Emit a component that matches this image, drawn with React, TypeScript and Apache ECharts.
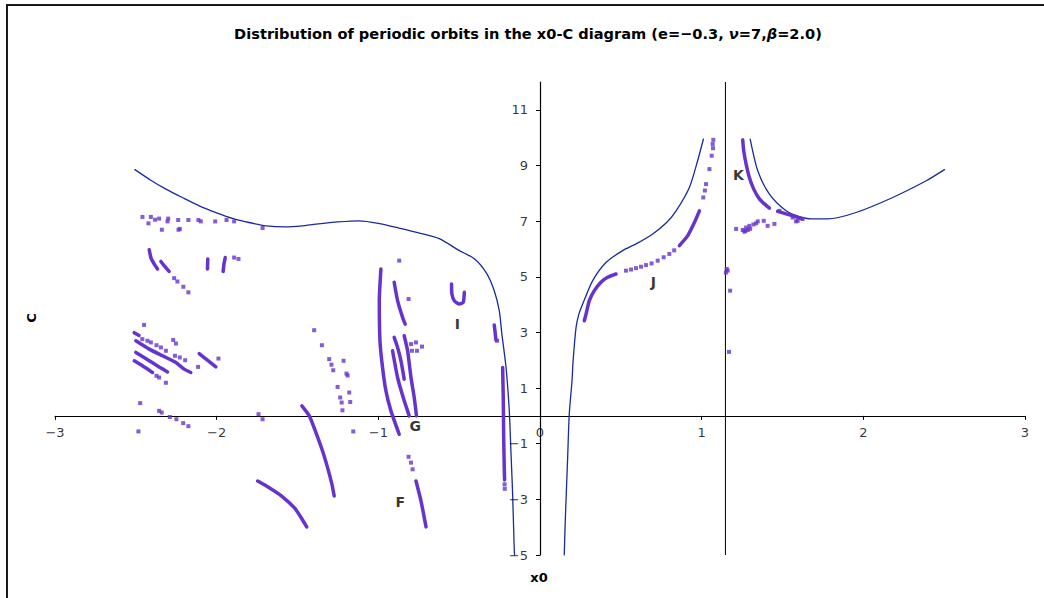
import React, { useEffect, useRef } from "react";
import * as echarts from "echarts";

// Zero-velocity curves, [x0, C]
const zvcLeft: number[][] = [
  [-2.506, 8.85], [-2.41, 8.48], [-2.314, 8.15], [-2.21, 7.84], [-2.108, 7.55], [-2.0, 7.3],
  [-1.902, 7.1], [-1.8, 6.95], [-1.696, 6.83], [-1.572, 6.79], [-1.47, 6.83], [-1.386, 6.89],
  [-1.25, 6.97], [-1.118, 7.01], [-1.0, 6.92], [-0.871, 6.75], [-0.75, 6.58], [-0.623, 6.37],
  [-0.499, 5.94], [-0.406, 5.65], [-0.332, 5.14], [-0.283, 4.5], [-0.252, 3.78], [-0.235, 2.9],
  [-0.21, 1.74], [-0.19, 0.18], [-0.18, -1.26], [-0.17, -2.7], [-0.159, -4.86], [-0.157, -5.0],
];
const zvcInner: number[][] = [
  [0.15, -5.0], [0.157, -3.66], [0.171, -1.5], [0.181, 0.06], [0.198, 1.26], [0.205, 2.0],
  [0.223, 3.18], [0.24, 3.65], [0.264, 4.02], [0.326, 4.86], [0.408, 5.51], [0.511, 5.94],
  [0.6, 6.2], [0.697, 6.54], [0.78, 6.93], [0.842, 7.37], [0.924, 8.21], [0.975, 9.17], [1.011, 9.95],
];
const zvcRight: number[][] = [
  [1.3, 9.95], [1.347, 8.81], [1.419, 7.97], [1.522, 7.37], [1.6, 7.17], [1.677, 7.08],
  [1.78, 7.08], [1.955, 7.31], [2.182, 7.85], [2.389, 8.45], [2.502, 8.85],
];

// Collision line x0 = 1 - mu
const collisionX = 1.147;

// Dense families of periodic orbits, [x0, C]
const familyStrips: number[][][] = [
  [[-2.417, 5.97], [-2.407, 5.69], [-2.387, 5.46], [-2.366, 5.28]],
  [[-2.345, 5.55], [-2.325, 5.4], [-2.294, 5.19]],
  [[-2.055, 5.64], [-2.057, 5.28]],
  [[-1.947, 5.69], [-1.955, 5.45], [-1.96, 5.19]],
  [[-2.51, 2.99], [-2.48, 2.89]],
  [[-2.5, 2.7], [-2.417, 2.4], [-2.335, 2.16], [-2.252, 1.92], [-2.201, 1.68], [-2.16, 1.56]],
  [[-2.5, 2.28], [-2.417, 1.98], [-2.356, 1.76], [-2.304, 1.58]],
  [[-2.51, 1.98], [-2.459, 1.8], [-2.397, 1.56]],
  [[-2.108, 2.24], [-2.057, 2.0], [-2.005, 1.76]],
  [[-1.473, 0.36], [-1.427, 0.0], [-1.386, -0.6], [-1.345, -1.26], [-1.314, -1.86], [-1.287, -2.46], [-1.273, -2.88]],
  [[-1.746, -2.34], [-1.675, -2.58], [-1.598, -2.88], [-1.52, -3.3], [-1.477, -3.66], [-1.443, -3.99]],
  [[-0.767, -2.34], [-0.736, -3.06], [-0.705, -3.99]],
  [[-0.984, 5.28], [-0.994, 4.14], [-0.99, 2.7], [-0.974, 1.74], [-0.953, 0.9], [-0.922, 0.18], [-0.871, -0.66]],
  [[-0.902, 4.8], [-0.881, 4.14], [-0.85, 3.54], [-0.834, 3.3]],
  [[-0.912, 2.34], [-0.881, 1.38], [-0.846, 0.66], [-0.809, 0.0]],
  [[-0.902, 2.82], [-0.881, 2.46], [-0.86, 1.98], [-0.84, 1.32]],
  [[-0.84, 2.88], [-0.819, 2.34], [-0.798, 1.38], [-0.778, 0.66], [-0.764, 0.0]],
  [[-0.547, 4.74], [-0.545, 4.38], [-0.53, 4.14], [-0.499, 4.02], [-0.475, 4.08], [-0.468, 4.44]],
  [[-0.283, 3.27], [-0.272, 2.72]],
  [[-0.231, 1.74], [-0.227, 0.54], [-0.225, -0.66], [-0.221, -1.86], [-0.219, -2.3]],
  [[0.274, 3.42], [0.285, 3.66], [0.305, 4.14], [0.336, 4.5], [0.377, 4.8], [0.418, 4.98], [0.47, 5.1]],
  [[0.862, 6.12], [0.913, 6.47], [0.955, 6.95], [0.986, 7.37]],
  [[1.254, 9.92], [1.26, 9.53], [1.275, 9.05], [1.295, 8.57], [1.322, 8.15], [1.357, 7.8], [1.388, 7.62], [1.419, 7.47]],
  [[1.47, 7.35], [1.512, 7.28], [1.574, 7.17], [1.619, 7.08]],
];

// Isolated periodic orbits, [x0, C]
const orbitsUpperLeft: number[][] = [
  [-2.459, 7.15], [-2.407, 7.15], [-2.422, 6.92], [-2.381, 7.05], [-2.356, 7.09], [-2.3, 7.09],
  [-2.304, 6.99], [-2.238, 7.04], [-2.175, 7.04], [-2.113, 7.04], [-2.098, 6.99], [-2.009, 6.99],
  [-1.939, 7.04], [-1.892, 6.99], [-2.339, 6.69], [-2.236, 6.69], [-2.228, 6.72], [-1.716, 6.75],
  [-2.263, 4.95], [-2.243, 4.83], [-2.206, 4.64], [-2.175, 4.44], [-1.892, 5.69], [-1.865, 5.64],
];
const orbitsLowerLeft: number[][] = [
  [-2.449, 3.27], [-2.46, 2.76], [-2.428, 2.7], [-2.407, 2.64], [-2.372, 2.54], [-2.345, 2.46],
  [-2.314, 2.34], [-2.269, 2.73], [-2.252, 2.6], [-2.372, 1.44], [-2.356, 1.38], [-2.314, 1.19],
  [-2.258, 2.16], [-2.228, 2.1], [-2.195, 2.0], [-1.989, 2.06], [-2.115, 1.76],
  [-2.473, 0.46], [-2.356, 0.18], [-2.34, 0.12], [-2.29, -0.04], [-2.249, -0.12], [-2.207, -0.26],
  [-2.175, -0.37], [-2.484, -0.56], [-1.741, 0.06], [-1.716, -0.12],
];
const orbitsMiddle: number[][] = [
  [-1.397, 3.08], [-1.349, 2.54], [-1.304, 2.04], [-1.29, 1.84], [-1.279, 1.64], [-1.215, 1.98],
  [-1.197, 1.52], [-1.19, 1.45], [-1.252, 1.04], [-1.236, 0.66], [-1.227, 0.48], [-1.18, 0.84],
  [-1.174, 0.5], [-1.222, 0.2], [-1.155, -0.56],
  [-0.871, 5.58], [-0.813, 4.2], [-0.798, 2.58], [-0.792, 2.34], [-0.767, 2.64], [-0.761, 2.34], [-0.73, 2.49],
  [-0.813, -1.47], [-0.798, -1.68], [-0.788, -1.92],
  [-0.219, -2.46], [-0.218, -2.62], [-0.265, 2.7],
];
const orbitsRight: number[][] = [
  [0.532, 5.22], [0.563, 5.26], [0.594, 5.31], [0.625, 5.36], [0.656, 5.42], [0.69, 5.48],
  [0.728, 5.58], [0.765, 5.7], [0.8, 5.82], [0.83, 5.95],
  [1.01, 7.85], [1.02, 8.1], [1.027, 8.33], [1.048, 8.87], [1.062, 9.35], [1.07, 9.62], [1.068, 9.77], [1.072, 9.92],
  [1.161, 5.22], [1.155, 5.28], [1.15, 5.15], [1.176, 4.5], [1.169, 2.3], [1.213, 6.72],
  [1.254, 6.68], [1.264, 6.62], [1.275, 6.77], [1.285, 6.68], [1.295, 6.83], [1.337, 6.92],
  [1.347, 6.99], [1.384, 7.01], [1.408, 6.83], [1.45, 6.9], [1.27, 6.65], [1.3, 6.72], [1.32, 6.88],
  [1.584, 6.99], [1.594, 7.01], [1.625, 7.08], [1.563, 7.13], [1.481, 7.37],
];

// Family labels
const familyNames = ["F", "G", "I", "J", "K"];
const familyLabelPos: number[][] = [
  [-0.864, -3.09], [-0.771, -0.36], [-0.511, 3.31], [0.701, 4.82], [1.227, 8.67],
];

const xTicks = [-3, -2, -1, 0, 1, 2, 3];
const yTicks = [-5, -3, -1, 1, 3, 5, 7, 9, 11];

const BLUE = "#1a2a9e";
const PURPLE = "#6633cc";
const FONT = "DejaVu Sans";

const minus = (v: number) => String(v).replace("-", "\u2212");

export default function App() {
  const ref = useRef<HTMLDivElement>(null);

  useEffect(() => {
    if (!ref.current) return;
    const chart = echarts.init(ref.current, null, { renderer: "svg" });

    const lineOf = (data: number[][], color: string, width: number, z: number) => ({
      type: "line",
      data,
      showSymbol: false,
      symbol: "none",
      smooth: 0.25,
      lineStyle: { color, width, cap: "round", join: "round" },
      z,
      silent: true,
    });

    const tickLabelStyle = {
      show: true,
      color: "#000",
      fontFamily: FONT,
      fontSize: 13,
    };

    const series: any[] = [
      {
        type: "line",
        data: [[collisionX, -5], [collisionX, 12]],
        symbol: "none",
        lineStyle: { color: "#000", width: 1 },
        z: 1,
        silent: true,
      },
      lineOf(zvcLeft, BLUE, 1.3, 3),
      lineOf(zvcInner, BLUE, 1.3, 3),
      lineOf(zvcRight, BLUE, 1.3, 3),
      ...familyStrips.map((s) => ({
        type: "line",
        data: s,
        symbol: "none",
        smooth: 0.2,
        lineStyle: { color: PURPLE, width: 3.5, cap: "round", join: "round" },
        z: 4,
        silent: true,
      })),
      ...[orbitsUpperLeft, orbitsLowerLeft, orbitsMiddle, orbitsRight].map((d) => ({
        type: "scatter",
        data: d,
        symbol: "rect",
        symbolSize: 4,
        itemStyle: { color: PURPLE },
        z: 4,
        silent: true,
      })),
      {
        type: "scatter",
        data: familyLabelPos.map((p, i) => ({ value: p, name: familyNames[i] })),
        symbolSize: 0,
        z: 6,
        label: {
          show: true,
          position: "inside",
          formatter: (p: any) => p.name,
          color: "#000",
          fontFamily: FONT,
          fontWeight: "bold",
          fontSize: 14,
        },
        silent: true,
      },
      // tick labels placed along the crossing axes
      {
        type: "scatter",
        data: xTicks.map((v) => [v, 0]),
        symbolSize: 0,
        z: 5,
        silent: true,
        label: {
          ...tickLabelStyle,
          position: "bottom",
          distance: 10,
          formatter: (p: any) => minus(p.value[0]),
        },
      },
      {
        type: "scatter",
        data: yTicks.map((v) => [0, v]),
        symbolSize: 0,
        z: 5,
        silent: true,
        label: {
          ...tickLabelStyle,
          position: "left",
          distance: 12,
          formatter: (p: any) => minus(p.value[1]),
        },
      },
    ];

    chart.setOption({
      animation: false,
      backgroundColor: "#fff",
      grid: { left: 55, right: 19, top: 82, bottom: 43, containLabel: false },
      xAxis: {
        type: "value",
        min: -3,
        max: 3,
        interval: 1,
        splitLine: { show: false },
        axisLine: { onZero: true, lineStyle: { color: "#000", width: 1.2 } },
        axisTick: { show: true, length: 4, lineStyle: { color: "#000" }, customValues: xTicks },
        axisLabel: { show: false },
      },
      yAxis: {
        type: "value",
        min: -5,
        max: 12,
        interval: 1,
        splitLine: { show: false },
        axisLine: { onZero: true, lineStyle: { color: "#000", width: 1.2 } },
        axisTick: { show: true, length: 4, lineStyle: { color: "#000" }, customValues: yTicks },
        axisLabel: { show: false },
      },
      graphic: [
        {
          type: "rect",
          shape: { x: 7, y: 5, width: 1200, height: 800 },
          style: { fill: "none", stroke: "#1a1a1a", lineWidth: 2 },
          silent: true,
        },
        {
          type: "text",
          x: 528,
          y: 33,
          style: {
            text: "Distribution of periodic orbits in the x0-C diagram (e=\u22120.3, {i|\u03bd}=7,{i|\u03b2}=2.0)",
            fontFamily: FONT,
            fontWeight: "bold",
            fontSize: 14.6,
            fill: "#000",
            align: "center",
            verticalAlign: "middle",
            rich: {
              i: { fontFamily: FONT, fontWeight: "bold", fontStyle: "italic", fontSize: 14.6, fill: "#000" },
            },
          },
        },
        {
          type: "text",
          x: 539,
          y: 577,
          style: {
            text: "x0",
            fontFamily: FONT,
            fontWeight: "bold",
            fontSize: 13,
            fill: "#000",
            align: "center",
            verticalAlign: "middle",
          },
        },
        {
          type: "text",
          x: 31,
          y: 318,
          rotation: Math.PI / 2,
          style: {
            text: "C",
            fontFamily: FONT,
            fontWeight: "bold",
            fontSize: 13,
            fill: "#000",
            align: "center",
            verticalAlign: "middle",
          },
        },
      ],
      series,
    });

    return () => chart.dispose();
  }, []);

  return (
    <div
      ref={ref}
      style={{ position: "absolute", left: 0, top: 0, width: 1044, height: 598, background: "#fff" }}
    />
  );
}
